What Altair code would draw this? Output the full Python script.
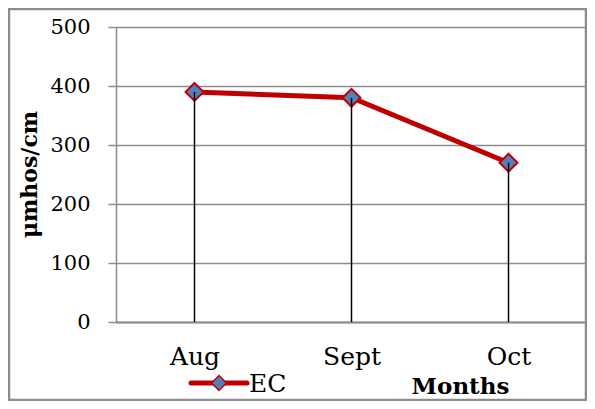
import altair as alt
import pandas as pd

months = ["Aug", "Sept", "Oct"]
ec_values = [390, 380, 270]
series_name = ["EC"]
y_ticks = [0, 100, 200, 300, 400, 500]

df = pd.DataFrame({"month": months, "ec": ec_values})
leg = pd.DataFrame({"series": series_name})

RED = "#C00000"
BLUE = "#4F81BD"
GRID = "#8C8C8C"
FONT = "DejaVu Serif"

W, H = 471, 295

x_enc = alt.X(
    "month:N",
    sort=months,
    scale=alt.Scale(type="point", padding=0.5),
    axis=alt.Axis(
        title="Months",
        labelAngle=0,
        ticks=False,
        domainColor=GRID,
        domainWidth=2,
        labelFont=FONT,
        labelFontSize=25,
        labelColor="black",
        labelPadding=22,
        titleFont=FONT,
        titleFontSize=23,
        titleFontWeight="bold",
        titleColor="black",
        titleX=344,
        titleY=64,
        titleAlign="center",
        titleBaseline="middle",
        grid=False,
    ),
)
y_enc = alt.Y(
    "ec:Q",
    scale=alt.Scale(domain=[0, 500]),
    axis=alt.Axis(
        title="μmhos/cm",
        values=y_ticks,
        grid=True,
        gridColor=GRID,
        gridWidth=1.5,
        domainColor=GRID,
        domainWidth=1.5,
        tickColor=GRID,
        tickSize=8,
        tickWidth=1.5,
        labelFont=FONT,
        labelFontSize=21,
        labelColor="black",
        labelPadding=18,
        titleFont=FONT,
        titleFontSize=22,
        titleFontWeight="bold",
        titleColor="black",
        titleAngle=-90,
        titleX=-87,
        titleY=147,
        titleAlign="center",
        titleBaseline="middle",
    ),
)

border = alt.Chart(leg).mark_rect(
    fillOpacity=0, stroke=GRID, strokeWidth=2.5
).encode(
    x=alt.value(-107), x2=alt.value(470), y=alt.value(-18), y2=alt.value(373)
)

line = alt.Chart(df).mark_line(color=RED, strokeWidth=5).encode(x=x_enc, y=y_enc)

points = alt.Chart(df).mark_point(
    shape="diamond", filled=True, fill=BLUE, stroke=RED, strokeWidth=2,
    size=320, opacity=1
).encode(x=alt.X("month:N", sort=months), y="ec:Q")

drops = alt.Chart(df).mark_rule(color="black", strokeWidth=1.5).encode(
    x=alt.X("month:N", sort=months), y="ec:Q", y2=alt.datum(0)
)

leg_line = alt.Chart(leg).mark_rule(color=RED, strokeWidth=5, strokeCap="round").encode(
    x=alt.value(75), x2=alt.value(131), y=alt.value(356)
)
leg_point = alt.Chart(leg).mark_point(
    shape="diamond", filled=True, fill=BLUE, stroke=RED, strokeWidth=1.5,
    size=220, opacity=1
).encode(x=alt.value(103), y=alt.value(356))
leg_text = alt.Chart(leg).mark_text(
    font=FONT, fontSize=25, align="left", baseline="middle", color="black"
).encode(x=alt.value(133), y=alt.value(357), text="series:N")

chart = alt.layer(
    border, line, points, drops, leg_line, leg_point, leg_text
).properties(
    width=W, height=H,
    autosize=alt.AutoSizeParams(type="none"),
    padding={"left": 108, "top": 19, "right": 0, "bottom": 79},
).configure_view(stroke=None).configure(background="white")

chart.save("out.html", embed_options={"renderer": "svg", "actions": False})
